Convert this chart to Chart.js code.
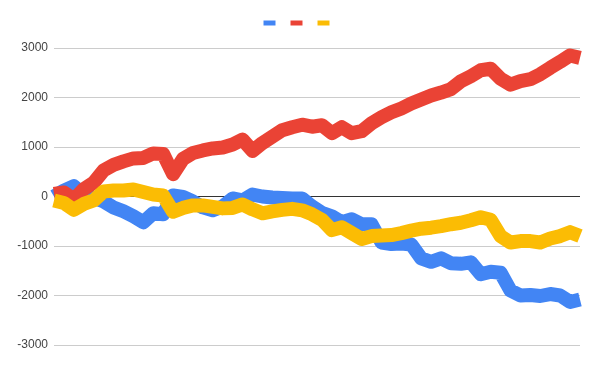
<!DOCTYPE html>
<html>
<head>
<meta charset="utf-8">
<script src="https://cdn.jsdelivr.net/npm/chart.js@4"></script>
<style>
  html, body { margin: 0; padding: 0; background: #fff; }
  #wrap { width: 599px; height: 368px; position: relative; }
</style>
</head>
<body>
<div id="wrap"><canvas id="chart"></canvas></div>
<script>
// sample steps (evenly spaced along the x axis)
const steps = Array.from({ length: 54 }, (_, i) => String(i + 1));

const blueValues = [
    0, 120, 210, 30, -30, -100, -220, -300, -400, -520,
    -340, -360, 20, -10, -100, -220, -280, -200, -40, -80,
    40, 0, -20, -30, -40, -40, -200, -330, -400, -520,
    -460, -560, -560, -930, -960, -950, -970, -1250, -1320, -1250,
    -1350, -1360, -1330, -1570, -1520, -1540, -1900, -2000, -1990, -2010,
    -1970, -2000, -2130, -2080
];

const redValues = [
    50, 80, -60, 150, 280, 530, 640, 710, 770, 780,
    870, 860, 450, 760, 880, 930, 970, 990, 1050, 1150,
    920, 1080, 1210, 1340, 1400, 1450, 1410, 1440, 1280, 1400,
    1280, 1320, 1480, 1600, 1700, 1780, 1880, 1960, 2040, 2100,
    2170, 2330, 2430, 2550, 2580, 2380, 2260, 2330, 2370, 2470,
    2600, 2720, 2850, 2800
];

const yellowValues = [
    -80, -130, -270, -150, -80, 100, 120, 120, 140, 90,
    40, 20, -310, -230, -180, -180, -210, -240, -230, -160,
    -260, -340, -300, -270, -250, -280, -360, -470, -680, -620,
    -740, -860, -800, -790, -780, -740, -690, -650, -630, -600,
    -560, -530, -480, -420, -470, -800, -930, -900, -900, -930,
    -850, -800, -720, -800
];

const yTicks = [-3000, -2000, -1000, 0, 1000, 2000, 3000];

const seriesColors = ['#4285F4', '#EA4335', '#FBBC04'];

function makeSet(values, color, order) {
    return {
        label: '',
        data: values,
        borderColor: color,
        backgroundColor: color,
        borderWidth: 14,
        pointRadius: 0,
        tension: 0,
        borderJoinStyle: 'round',
        borderCapStyle: 'butt',
        order: order // yellow drawn on top, blue underneath
    };
}

// push the plot a bit further below the legend
const legendGap = {
    id: 'legendGap',
    beforeInit(chart) {
        const fit = chart.legend.fit;
        chart.legend.fit = function () {
            fit.call(this);
            this.height += 9;
        };
    }
};

new Chart(document.getElementById('chart'), {
    type: 'line',
    data: {
        labels: steps,
        datasets: [
            makeSet(blueValues, seriesColors[0], 2),
            makeSet(redValues, seriesColors[1], 1),
            makeSet(yellowValues, seriesColors[2], 0)
        ]
    },
    plugins: [legendGap],
    options: {
        responsive: true,
        maintainAspectRatio: false,
        animation: false,
        layout: { padding: { left: 0, right: 0, top: 8, bottom: 23 } },
        scales: {
            x: {
                display: false,
                offset: false
            },
            y: {
                min: -3000,
                max: 3000,
                afterBuildTicks: (scale) => {
                    scale.ticks = yTicks.map(v => ({ value: v }));
                },
                afterFit: (scale) => { scale.width = 54; },
                border: { display: false },
                grid: {
                    drawTicks: false,
                    color: (ctx) => ctx.tick && ctx.tick.value === 0 ? '#333333' : '#cccccc',
                    lineWidth: 1
                },
                ticks: {
                    padding: 6,
                    color: '#444',
                    font: { family: 'Liberation Sans, Arial, sans-serif', size: 12 },
                    callback: (v) => String(v)
                }
            },
            // empty right margin so the legend centres on the whole page
            yRight: {
                position: 'right',
                display: true,
                afterFit: (scale) => { scale.width = 19; },
                border: { display: false },
                grid: { display: false },
                ticks: { display: false }
            }
        },
        plugins: {
            legend: {
                position: 'top',
                align: 'center',
                labels: {
                    boxWidth: 12,
                    boxHeight: 5,
                    padding: 9,
                    font: { size: 12 },
                    sort: (a, b) => a.datasetIndex - b.datasetIndex,
                    generateLabels: (chart) =>
                        Chart.defaults.plugins.legend.labels.generateLabels(chart)
                            .map(item => Object.assign(item, { lineWidth: 0, strokeStyle: 'rgba(0,0,0,0)' }))
                }
            },
            tooltip: { enabled: false }
        }
    }
});
</script>
</body>
</html>
